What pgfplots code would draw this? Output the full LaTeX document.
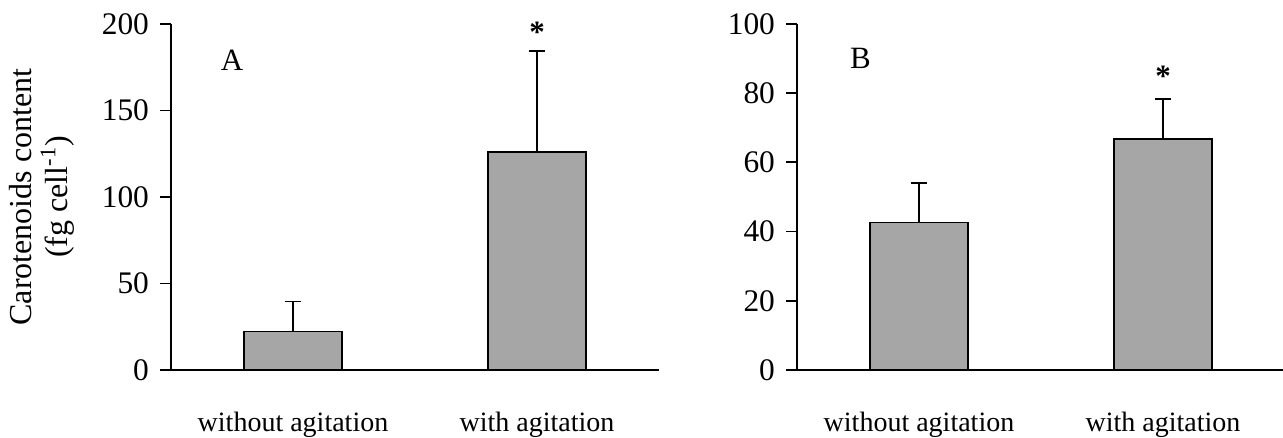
\documentclass[border=0pt]{standalone}
\usepackage{fontspec}
\setmainfont{Liberation Serif}
\usepackage{pgfplots}
\pgfplotsset{compat=1.18}
\definecolor{barfill}{RGB}{166,166,166}
\pgfplotsset{
  panel/.style={
    width=244pt, height=173pt, scale only axis,
    axis lines*=left,
    axis line style={line width=0.9pt, black},
    xmin=-0.5, xmax=1.5, ymin=0,
    xtick={0,1}, xticklabels={without agitation, with agitation},
    x tick style={draw=none},
    tick align=outside, major tick length=5.5pt,
    y tick style={line width=0.9pt, black},
    /pgf/number format/assume math mode=true,
    yticklabel style={font=\fontsize{15.7}{18}\selectfont, xshift=-2pt},
    xticklabel style={font=\fontsize{14}{17}\selectfont, yshift=-12pt},
    ybar, bar width=0.4,
    clip=false,
  },
  barstyle/.style={fill=barfill, draw=black, line width=0.9pt,
    error bars/.cd, y dir=plus, y explicit,
    error bar style={line width=0.9pt, black},
    error mark options={black, line width=0.9pt, mark size=4pt, rotate=90}},
}
\begin{document}
\begin{tikzpicture}
\useasboundingbox (-85.5pt,-34pt) rectangle (556pt,185pt);
\begin{axis}[panel, ymax=200, ytick={0,50,100,150,200},
  ylabel={Carotenoids content\\(fg cell\textsuperscript{-1})},
  ylabel style={align=center, font=\fontsize{16}{18}\selectfont,
    at={(axis description cs:-0.264,0.5)}, anchor=center}]
\addplot[barstyle] coordinates {(0,22.2) +- (0,17.4) (1,126.2) +- (0,58.3)};
\node[font=\fontsize{15.5}{18}\selectfont] at (axis cs:-0.25,179) {A};
\node[font=\bfseries\fontsize{15.5}{18}\selectfont] at (axis cs:1,195) {*};
\end{axis}
\begin{axis}[panel, at={(313pt,0pt)}, anchor=south west, ymax=100, ytick={0,20,40,60,80,100}]
\addplot[barstyle] coordinates {(0,42.6) +- (0,11.5) (1,66.7) +- (0,11.6)};
\node[font=\fontsize{15.5}{18}\selectfont] at (axis cs:-0.24,90) {B};
\node[font=\bfseries\fontsize{15.5}{18}\selectfont] at (axis cs:1,85) {*};
\end{axis}
\end{tikzpicture}
\end{document}
